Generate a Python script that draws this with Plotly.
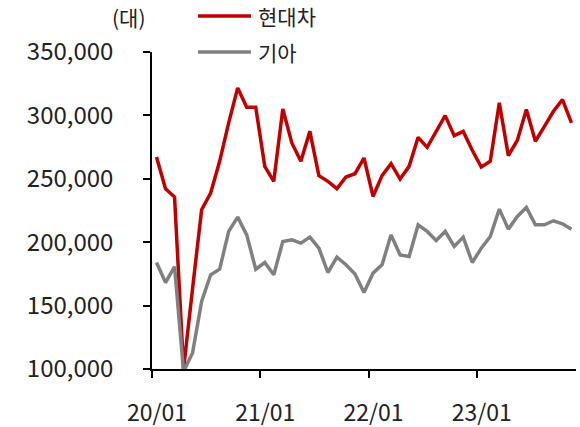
import plotly.graph_objects as go

months = [f"{y:02d}/{m:02d}" for y in range(20, 24) for m in range(1, 13)][:47]

hyundai = [267200, 242200, 235600, 100000, 163700, 225600, 238800, 263800, 294100, 321700,
           306400, 306400, 259800, 248000, 305100, 278300, 263800, 287400, 252500, 248000,
           242200, 251400, 254000, 266400, 236100, 252500, 261900, 249800, 259800, 282700,
           274800, 287400, 299800, 284000, 287400, 272500, 259300, 263800, 309900, 268300,
           280400, 304600, 279600, 291400, 303200, 312500, 294100]

kia = [184000, 168200, 180800, 98000, 112900, 153200, 174300, 178700, 208500, 219800,
       205800, 178700, 184000, 174300, 200600, 201900, 199300, 204000, 195300, 176100,
       188200, 182200, 175000, 160300, 175600, 182200, 205800, 190000, 188700, 213700,
       208500, 201300, 208500, 196600, 204000, 184000, 195300, 204500, 226100, 210300,
       220300, 227400, 213700, 213700, 216900, 214500, 210300]

tick_labels = ["20/01", "21/01", "22/01", "23/01"]
series_names = ["현대차", "기아"]
unit_label = "(대)"

RED = "#C00000"
GRAY = "#808080"
FONT = "Noto Sans CJK KR"
TXT = "#222222"

x = list(range(len(months)))
tick_pos = [months.index(lbl) - 0.5 for lbl in tick_labels]

fig = go.Figure()
fig.add_trace(go.Scatter(x=x, y=hyundai, mode="lines", name=series_names[0],
                         line=dict(color=RED, width=3.5), showlegend=False))
fig.add_trace(go.Scatter(x=x, y=kia, mode="lines", name=series_names[1],
                         line=dict(color=GRAY, width=3.5), showlegend=False))

W, H = 580, 427
L, R, T, B = 152, 4, 52, 58
PW, PH = W - L - R, H - T - B


def px_x(page_x):
    return (page_x - L) / PW


def px_y(page_y):
    return (H - B - page_y) / PH


fig.update_layout(
    width=W, height=H, autosize=False,
    margin=dict(l=L, r=R, t=T, b=B),
    paper_bgcolor="white", plot_bgcolor="white",
    font=dict(family=FONT, size=20, color=TXT),
    showlegend=False,
)
fig.update_xaxes(
    range=[-0.5, len(months) - 0.5], automargin=False,
    tickmode="array", tickvals=tick_pos, ticktext=tick_labels,
    tickfont=dict(size=23, family=FONT, color=TXT),
    showline=True, linecolor="black", linewidth=1.5,
    ticks="outside", ticklen=7, tickwidth=1.5, tickcolor="black",
    showgrid=False, zeroline=False,
    ticklabelshift=5, ticklabelstandoff=16,
)
fig.update_yaxes(
    range=[100000, 350000], dtick=50000, tickformat=",", automargin=False,
    tickfont=dict(size=24, family=FONT, color=TXT),
    showline=True, linecolor="black", linewidth=1.5,
    ticks="outside", ticklen=7, tickwidth=1.5, tickcolor="black",
    showgrid=False, zeroline=False,
    ticklabelstandoff=25,
)

# legend (drawn manually)
for i, (name, col) in enumerate(zip(series_names, [RED, GRAY])):
    yy = 16 + 36 * i
    fig.add_shape(type="line", xref="paper", yref="paper",
                  x0=px_x(198), x1=px_x(251), y0=px_y(yy), y1=px_y(yy),
                  line=dict(color=col, width=3.5))
    fig.add_annotation(text=name, xref="paper", yref="paper",
                       x=px_x(256), y=px_y(yy),
                       xanchor="left", yanchor="middle", showarrow=False,
                       font=dict(size=21, family=FONT, color=TXT))

fig.add_annotation(text=unit_label, xref="paper", yref="paper",
                   x=px_x(129), y=px_y(17),
                   xanchor="center", yanchor="middle", showarrow=False,
                   font=dict(size=21, family=FONT, color=TXT))

fig.write_html("out.html",
               config={"displayModeBar": False},
               post_script="document.body.style.margin='0';document.body.style.overflow='hidden';")
